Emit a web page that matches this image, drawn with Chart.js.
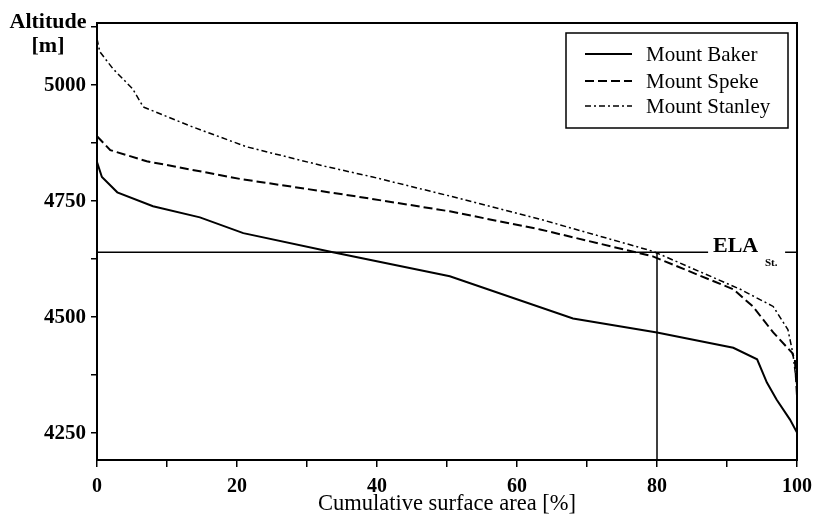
<!DOCTYPE html>
<html>
<head>
<meta charset="utf-8">
<script src="https://cdn.jsdelivr.net/npm/chart.js@4.4.0/dist/chart.umd.min.js"></script>
<style>
  body { margin: 0; background: #fff; }
  #wrap { width: 814px; height: 518px; }
</style>
</head>
<body>
<div id="wrap"><canvas id="chart"></canvas></div>
<script>
// cumulative surface area [%] and altitude [m] per glacier
var bakerX = [0, 0.7, 2.9, 8, 14.7, 20.9, 33.7, 50.4, 68, 80, 90.9, 94.3, 95.7, 97.1, 99, 100, 100];
var bakerY = [4834, 4802, 4769, 4739, 4715, 4681, 4640, 4588, 4497, 4467, 4434, 4409, 4359, 4322, 4279, 4251, 4230];
var spekeX = [0, 1.9, 7.1, 20.4, 36.7, 50.4, 63.3, 79.4, 90.9, 93.7, 96.6, 99.3, 99.7, 100];
var spekeY = [4890, 4860, 4836, 4798, 4761, 4728, 4689, 4631, 4560, 4523, 4467, 4423, 4408, 4330];
var stanleyX = [0, 0.4, 2.3, 5.1, 6.1, 6.6, 13.3, 21.4, 32.3, 39.4, 50.4, 63.3, 79.4, 91.9, 96.6, 98.7, 99.4, 100, 100];
var stanleyY = [5100, 5072, 5035, 4992, 4966, 4953, 4912, 4867, 4826, 4802, 4761, 4711, 4642, 4560, 4523, 4473, 4423, 4350, 4290];

var seriesNames = ["Mount Baker", "Mount Speke", "Mount Stanley"];
var yTicks = [4250, 4375, 4500, 4625, 4750, 4875, 5000, 5125];
var ela = 4640;      // ELA of Mount Stanley
var elaArea = 80;    // % of area above ELA

var serif = "'Liberation Serif', 'DejaVu Serif', serif";

function toPoints(xs, ys) {
  var pts = [];
  for (var i = 0; i < xs.length; i++) {
    pts.push({ x: xs[i], y: ys[i] });
  }
  return pts;
}

// frame, ELA lines, legend and y title
var extras = {
  id: "extras",
  afterDatasetsDraw: function(chart) {
    var ctx = chart.ctx;
    var a = chart.chartArea;
    var xs = chart.scales.x, ys = chart.scales.y;
    var yE = ys.getPixelForValue(ela);
    var xE = xs.getPixelForValue(elaArea);

    ctx.save();
    ctx.strokeStyle = "#000";
    ctx.lineWidth = 1.5;
    ctx.beginPath();
    ctx.moveTo(a.left, yE);
    ctx.lineTo(xs.getPixelForValue(87.3), yE);
    ctx.moveTo(xs.getPixelForValue(98.3), yE);
    ctx.lineTo(a.right, yE);
    ctx.moveTo(xE, yE);
    ctx.lineTo(xE, a.bottom);
    ctx.stroke();

    ctx.fillStyle = "#000";
    ctx.textBaseline = "alphabetic";
    ctx.textAlign = "left";
    ctx.font = "bold 22px " + serif;
    ctx.fillText("ELA", 713, 252);
    ctx.font = "bold 11px " + serif;
    ctx.fillText("St.", 765, 266);

    // frame
    ctx.lineWidth = 2;
    ctx.strokeRect(a.left, a.top, a.right - a.left, a.bottom - a.top);

    // legend box
    ctx.lineWidth = 1.5;
    ctx.strokeRect(566, 33, 222, 95);
    var rows = [54, 81, 106];
    ctx.font = "21px " + serif;
    ctx.textBaseline = "middle";
    for (var i = 0; i < chart.data.datasets.length; i++) {
      var ds = chart.data.datasets[i];
      ctx.beginPath();
      ctx.setLineDash(ds.borderDash || []);
      ctx.lineWidth = ds.borderWidth;
      ctx.moveTo(585, rows[i]);
      ctx.lineTo(632, rows[i]);
      ctx.stroke();
      ctx.setLineDash([]);
      ctx.fillText(ds.label, 646, rows[i] + 1);
    }

    // y axis title
    ctx.font = "bold 22px " + serif;
    ctx.textAlign = "center";
    ctx.textBaseline = "alphabetic";
    ctx.fillText("Altitude", 48, 28);
    ctx.fillText("[m]", 48, 52);
    ctx.restore();
  }
};

new Chart(document.getElementById("chart"), {
  type: "line",
  data: {
    datasets: [
      { label: seriesNames[0], data: toPoints(bakerX, bakerY), borderColor: "#000", borderWidth: 2, borderDash: [] },
      { label: seriesNames[1], data: toPoints(spekeX, spekeY), borderColor: "#000", borderWidth: 2, borderDash: [9, 4] },
      { label: seriesNames[2], data: toPoints(stanleyX, stanleyY), borderColor: "#000", borderWidth: 1.5, borderDash: [6, 3, 2, 3] }
    ]
  },
  options: {
    responsive: true,
    maintainAspectRatio: false,
    animation: false,
    elements: { point: { radius: 0 }, line: { tension: 0, fill: false } },
    layout: { padding: { top: 23, right: 17, left: 0, bottom: 0 } },
    plugins: { legend: { display: false }, tooltip: { enabled: false } },
    scales: {
      x: {
        type: "linear",
        min: 0,
        max: 100,
        afterFit: function(s) {
          s.height = 58;
          s.paddingLeft = 0;
          s.paddingRight = 0;
        },
        ticks: {
          stepSize: 10,
          color: "#000",
          padding: 8,
          maxRotation: 0,
          font: { family: serif, size: 20, weight: "bold" },
          callback: function(v) { return v % 20 === 0 ? v : ""; }
        },
        grid: { drawOnChartArea: false, color: "#000", tickLength: 7, lineWidth: 1.5 },
        border: { color: "#000", width: 2 },
        title: {
          display: true,
          text: "Cumulative surface area [%]",
          color: "#000",
          padding: 0,
          font: { family: serif, size: 22.5 }
        }
      },
      y: {
        type: "linear",
        min: 4192,
        max: 5134,
        afterFit: function(s) { s.width = 97; },
        afterBuildTicks: function(s) {
          s.ticks = yTicks.map(function(v) { return { value: v }; });
        },
        ticks: {
          color: "#000",
          padding: 5,
          font: { family: serif, size: 21, weight: "bold" },
          callback: function(v) { return v % 250 === 0 ? v : ""; }
        },
        grid: { drawOnChartArea: false, color: "#000", tickLength: 6, lineWidth: 1.5 },
        border: { color: "#000", width: 2 }
      }
    }
  },
  plugins: [extras]
});
</script>
</body>
</html>
